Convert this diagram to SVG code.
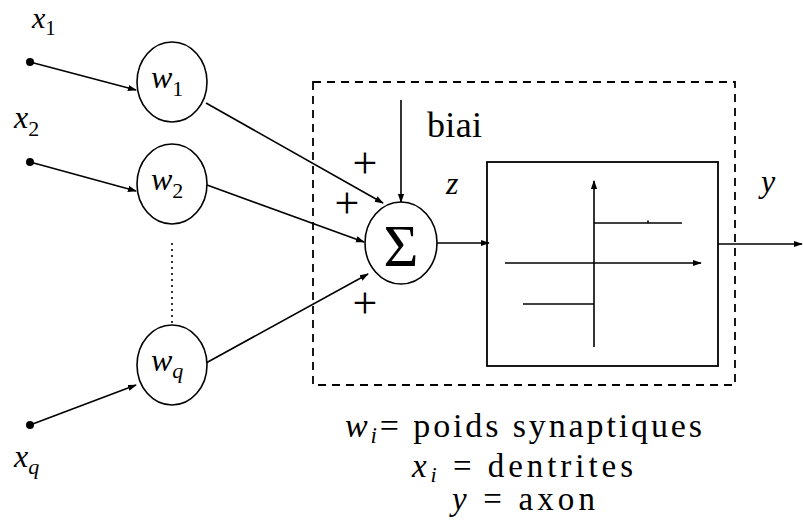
<svg xmlns="http://www.w3.org/2000/svg" width="803" height="523" viewBox="0 0 803 523">
<style>
.ln{stroke:#000;stroke-width:1.6;fill:none}
.ci{stroke:#000;stroke-width:1.6;fill:#fff}
.m{font-style:italic}
</style>
<defs>
<marker id="ah" viewBox="0 0 10 10" refX="9" refY="5" markerWidth="9" markerHeight="9" markerUnits="userSpaceOnUse" orient="auto">
<path d="M0,1.5 L10,5 L0,8.5 z" fill="#000"/>
</marker>
</defs>
<rect width="803" height="523" fill="#fff"/>
<g id="connectors">
<line class="ln" x1="30" y1="62" x2="136" y2="90" marker-end="url(#ah)"/>
<line class="ln" x1="30" y1="162" x2="136" y2="191" marker-end="url(#ah)"/>
<line class="ln" x1="30" y1="425" x2="136" y2="385" marker-end="url(#ah)"/>
<line class="ln" x1="172" y1="243" x2="172" y2="325" stroke-dasharray="2,4"/>
<line class="ln" x1="206" y1="103" x2="383" y2="203" marker-end="url(#ah)"/>
<line class="ln" x1="207" y1="185" x2="364" y2="242" marker-end="url(#ah)"/>
<line class="ln" x1="206" y1="363" x2="368" y2="274" marker-end="url(#ah)"/>
<line class="ln" x1="401" y1="100" x2="401" y2="202" marker-end="url(#ah)"/>
<line class="ln" x1="437" y1="243" x2="489" y2="243" marker-end="url(#ah)"/>
<line class="ln" x1="718" y1="244" x2="802" y2="244" marker-end="url(#ah)"/>
</g>
<g font-family="'Liberation Serif', 'DejaVu Serif', serif" fill="#000">
<g id="inputs">
<circle cx="30" cy="62" r="4" fill="#000"/>
<circle cx="30" cy="162" r="4" fill="#000"/>
<circle cx="30" cy="425" r="4" fill="#000"/>
<text x="32" y="28" font-size="30"><tspan class="m">x</tspan><tspan font-size="21" dy="7">1</tspan></text>
<text x="14" y="128" font-size="32"><tspan class="m">x</tspan><tspan font-size="22" dy="8">2</tspan></text>
<text x="14" y="467" font-size="32"><tspan class="m">x</tspan><tspan class="m" font-size="22" dy="7">q</tspan></text>
</g>
<g id="w1">
<ellipse class="ci" cx="172" cy="82" rx="35" ry="40"/>
<text x="151" y="88" font-size="32"><tspan class="m">w</tspan><tspan font-size="22" dy="8">1</tspan></text>
</g>
<g id="w2">
<ellipse class="ci" cx="172" cy="184" rx="35" ry="40"/>
<text x="151" y="190" font-size="32"><tspan class="m">w</tspan><tspan font-size="22" dy="8">2</tspan></text>
</g>
<g id="wq">
<ellipse class="ci" cx="172" cy="365" rx="35" ry="40"/>
<text x="151" y="371" font-size="32"><tspan class="m">w</tspan><tspan class="m" font-size="22" dy="7">q</tspan></text>
</g>
<g id="neuron">
<rect x="313" y="82" width="422" height="303" fill="none" stroke="#000" stroke-width="1.8" stroke-dasharray="8,6"/>
</g>
<g id="sum">
<ellipse class="ci" cx="401" cy="243" rx="36" ry="41"/>
<text x="401" y="266" font-size="60" text-anchor="middle">Σ</text>
<text x="365" y="178" font-size="44" text-anchor="middle">+</text>
<text x="347" y="218" font-size="44" text-anchor="middle">+</text>
<text x="365" y="318" font-size="44" text-anchor="middle">+</text>
<text x="427" y="137" font-size="36" textLength="55">biai</text>
<text class="m" x="446" y="194" font-size="32">z</text>
</g>
<g id="activation">
<rect x="487" y="162" width="231" height="204" fill="none" stroke="#000" stroke-width="1.8"/>
<line class="ln" x1="594" y1="347" x2="594" y2="181" marker-end="url(#ah)"/>
<line class="ln" x1="505" y1="263" x2="701" y2="263" marker-end="url(#ah)"/>
<line class="ln" x1="594" y1="223" x2="682" y2="223"/>
<line class="ln" x1="648" y1="220.5" x2="648" y2="223"/>
<line class="ln" x1="523" y1="304" x2="594" y2="304"/>
</g>
<g id="output">
<text class="m" x="761" y="192" font-size="32">y</text>
</g>
<g id="legend">
<text x="345" y="437" font-size="34" textLength="357"><tspan class="m">w</tspan><tspan class="m" font-size="23" dy="6">i</tspan><tspan dy="-6">= poids synaptiques</tspan></text>
<text x="412" y="477" font-size="33" textLength="221"><tspan class="m">x</tspan><tspan class="m" font-size="22" dy="5">i</tspan><tspan dy="-5"> = dentrites</tspan></text>
<text x="452" y="510" font-size="33" textLength="143"><tspan class="m">y</tspan> = axon</text>
</g>
</g>
</svg>
